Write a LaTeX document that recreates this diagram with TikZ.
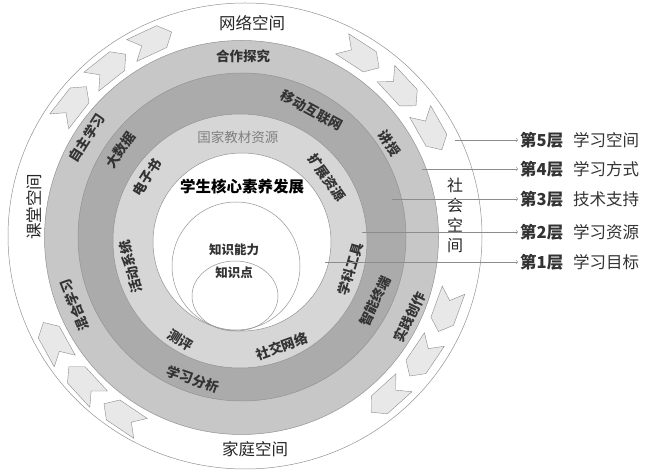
\documentclass[tikz,border=0pt]{standalone}
\usepackage{fontspec}
\setmainfont{Noto Sans CJK SC}
\usepackage{xcolor}
\usepackage{tikz}
\usetikzlibrary{arrows}
\definecolor{ink}{gray}{0.2}
\definecolor{layerfour}{gray}{0.78}
\definecolor{layerthree}{gray}{0.67}
\definecolor{layertwo}{gray}{0.84}
\tikzstyle{ring} = [draw=gray!85, line width=0.5pt]
\tikzstyle{chev} = [draw=gray!90, fill=gray!18, line width=0.4pt]
\tikzstyle{method} = [text=ink, font=\bfseries\fontsize{13.5}{15}\selectfont]
\tikzstyle{tech} = [text=ink, font=\bfseries\fontsize{13.5}{15}\selectfont]
\tikzstyle{res} = [text=ink, font=\bfseries\fontsize{13.5}{15}\selectfont]
\tikzstyle{spacelabel} = [text=gray!30!black, font=\fontsize{16.5}{20}\selectfont]
\tikzstyle{layerlabel} = [text=ink, anchor=west, inner sep=2pt,
font=\fontsize{16.5}{18}\selectfont]
\tikzstyle{line} = [draw=gray!90, line width=0.5pt, -to]

\begin{document}
\begin{tikzpicture}[x=1pt, y=1pt]
	\useasboundingbox (0,0) rectangle (651,474);
	\coordinate (O) at (243,237);
	% rings, from outside in
	\draw [ring, fill=white] (245,238) ellipse [x radius=237, y radius=233];
	\draw [ring, fill=layerfour] (241.5,236.5) circle (197);
	\draw [ring, fill=layerthree] (242,237) circle (164);
	\draw [ring, fill=layertwo] (240,233) circle (127);
	\draw [ring, fill=white] (242,232) circle (89);
	\draw [ring, fill=white] (236,208) circle (64);
	\draw [ring] (235,178) ellipse [x radius=43, y radius=35];
	
	\begin{scope}[shift={(O)}]
	% arrows running round the outer ring
	\foreach \a in {142,128.5,115,57,43,29.5,-20,-34,-48,236,222.5,209}
		\draw [chev, rotate=\a] (216,-22) -- (228,-11) -- (228,22) -- (216,11)
			-- (204,22) -- (204,-11) -- cycle;
	% layer 4
	\node [method] (coop) at (90:181) {合作探究};
	\node [method, rotate=-57.4] (lecture) at (32.6:174) {讲授};
	\node [method, rotate=64.4] (practice) at (-25.6:185) {实践创作};
	\node [method, rotate=112] (blend) at (202:182) {混合学习};
	\node [method, rotate=57.6] (self) at (147.6:185) {自主学习};
	% layer 3
	\node [tech, rotate=-28.5] (mobile) at (61.5:144) {移动互联网};
	\node [tech, rotate=54.7] (bigdata) at (144.7:150) {大数据};
	\node [tech, rotate=64.1] (terminal) at (-25.9:147) {智能终端};
	\node [tech, rotate=-19.3] (analytics) at (250.7:151) {学习分析};
	% layer 2
	\node [res, text=gray, font=\fontsize{13.5}{15}\selectfont] (national) at (93:100) {国家教材资源};
	\node [res, rotate=-54.5] (extend) at (35.5:103) {扩展资源};
	\node [res, rotate=58] (ebook) at (148:113) {电子书};
	\node [res, rotate=105] (activity) at (195:116) {活动系统};
	\node [res, rotate=-31.2] (assess) at (238.8:121) {测评};
	\node [res, rotate=19.7] (social) at (-70.3:116) {社交网络};
	\node [res, rotate=73.4] (tools) at (-16.6:112) {学科工具};
	\end{scope}
	
	% core
	\node [text=black, font=\bfseries\fontsize{15.5}{17}\selectfont] (core) at (242,287) {学生核心素养发展};
	\node [text=ink, font=\bfseries\fontsize{12.5}{14}\selectfont] (ability) at (234,224) {知识能力};
	\node [text=ink, font=\bfseries\fontsize{12.5}{14}\selectfont] (point) at (234,201) {知识点};
	
	% spaces
	\node [spacelabel] (web) at (252,451) {网络空间};
	\node [spacelabel] (home) at (255,25) {家庭空间};
	\node [spacelabel, rotate=90] (class) at (34,267) {课堂空间};
	\node [spacelabel, align=center, font=\fontsize{16}{20}\selectfont] (society) at (455,259) {社\\会\\空\\间};
	
	% layer legend
	\node [layerlabel] (L5) at (518,334) {\textbf{第5层}\hskip0.6em学习空间};
	\node [layerlabel] (L4) at (518,305) {\textbf{第4层}\hskip0.6em学习方式};
	\node [layerlabel] (L3) at (518,275) {\textbf{第3层}\hskip0.6em技术支持};
	\node [layerlabel] (L2) at (518,242) {\textbf{第2层}\hskip0.6em学习资源};
	\node [layerlabel] (L1) at (518,212) {\textbf{第1层}\hskip0.6em学习目标};
	\coordinate (s5) at (455,334);
	\coordinate (s4) at (422,305);
	\coordinate (s3) at (392,275);
	\coordinate (s2) at (362,242);
	\coordinate (s1) at (325,212);
	\path [line] (s5) -- (L5);
	\path [line] (s4) -- (L4);
	\path [line] (s3) -- (L3);
	\path [line] (s2) -- (L2);
	\path [line] (s1) -- (L1);
\end{tikzpicture}
\end{document}
